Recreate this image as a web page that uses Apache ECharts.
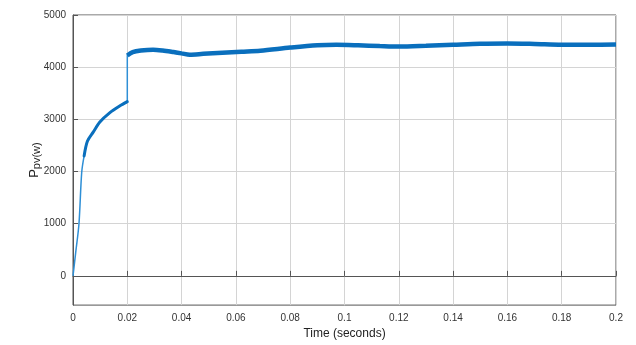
<!DOCTYPE html>
<html><head><meta charset="utf-8">
<script src="https://cdn.jsdelivr.net/npm/echarts@6/dist/echarts.min.js"></script>
<style>html,body{margin:0;padding:0;background:#fff}#c{width:636px;height:345px}</style>
</head><body><div id="c"></div>
<script>
// Rising part (before the step at t = 0.02 s)
const timeRise = [0, 0.001, 0.0022, 0.0032, 0.0041, 0.0053, 0.0075, 0.0099, 0.0136, 0.0173, 0.02];
const powerRise = [0, 450, 1000, 1980, 2300, 2580, 2760, 2950, 3130, 3260, 3340];
// Settled part (after the step)
const timeSettle = [0.02, 0.022, 0.025, 0.0295, 0.033, 0.037, 0.04, 0.043, 0.048, 0.055, 0.062, 0.069, 0.08, 0.09, 0.097, 0.105, 0.113, 0.12, 0.13, 0.14, 0.15, 0.16, 0.17, 0.18, 0.19, 0.2];
const powerSettle = [4225, 4290, 4320, 4335, 4320, 4290, 4265, 4240, 4255, 4275, 4295, 4315, 4375, 4420, 4430, 4420, 4405, 4395, 4410, 4430, 4450, 4455, 4445, 4430, 4430, 4435];
const xTicks = [0, 0.02, 0.04, 0.06, 0.08, 0.1, 0.12, 0.14, 0.16, 0.18, 0.2];
const yTicks = [0, 1000, 2000, 3000, 4000, 5000];

const thinData = timeRise.map((t, i) => [t, powerRise[i]]).concat(timeSettle.map((t, i) => [t, powerSettle[i]]));
const thickRise = timeRise.map((t, i) => [t, powerRise[i]]).filter(d => d[0] >= 0.0041);
const thickSettle = timeSettle.map((t, i) => [t, powerSettle[i]]);

const chart = echarts.init(document.getElementById('c'), null, {renderer: 'canvas'});
const axisCol = '#555';
const gridCol = '#d4d4d4';
const font = 'Liberation Sans, Arial, sans-serif';
chart.setOption({
  animation: false,
  backgroundColor: '#fff',
  grid: {left: 73, right: 20, top: 15, bottom: 32, show: true, borderColor: axisCol, borderWidth: 1, backgroundColor: 'transparent'},
  xAxis: {
    type: 'value', min: 0, max: 0.2, interval: 0.02,
    name: 'Time (seconds)', nameLocation: 'middle', nameGap: 20,
    nameTextStyle: {fontFamily: font, fontSize: 12, color: '#222'},
    axisLine: {show: true, lineStyle: {color: axisCol}},
    axisTick: {show: true, inside: true, length: 5, lineStyle: {color: axisCol}},
    axisLabel: {fontFamily: font, fontSize: 10, color: '#333', margin: 8,
      formatter: v => String(+v.toFixed(2))},
    splitLine: {show: true, lineStyle: {color: gridCol, width: 1}}
  },
  yAxis: {
    type: 'value', min: -560, max: 5000,
    name: '{p|P}{s|pv(w)}', nameLocation: 'middle', nameGap: 31, nameRotate: 90, nameMoveOverlap: false,
    nameTextStyle: {rich: {p: {fontFamily: font, fontSize: 13, color: '#222'}, s: {fontFamily: font, fontSize: 11, color: '#222', padding: [4, 0, 0, 0]}}},
    axisLine: {show: true, lineStyle: {color: axisCol}},
    axisTick: {show: true, inside: true, length: 5, lineStyle: {color: axisCol}, customValues: yTicks},
    axisLabel: {fontFamily: font, fontSize: 10, color: '#333', margin: 7, customValues: yTicks,
      formatter: v => String(Math.round(v))},
    splitLine: {show: true, lineStyle: {color: gridCol, width: 1}, customValues: yTicks}
  },
  series: [
    {type: 'line', data: thinData, smooth: 0.3, showSymbol: false, lineStyle: {color: '#2e8fd6', width: 1.5}, z: 2},
    {type: 'line', data: thickRise, smooth: 0.3, showSymbol: false, lineStyle: {color: '#0a6fbd', width: 3, cap: 'round'}, z: 3},
    {type: 'line', data: thickSettle, smooth: 0.3, showSymbol: false, lineStyle: {color: '#0a6fbd', width: 4.5}, z: 3}
  ]
});
</script></body></html>
